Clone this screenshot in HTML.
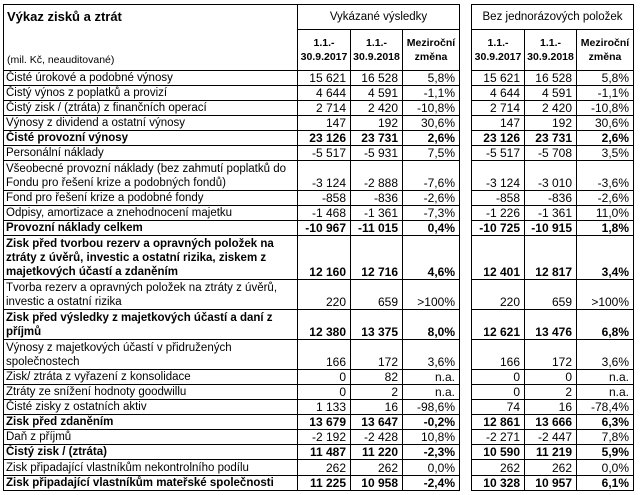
<!DOCTYPE html>
<html><head><meta charset="utf-8"><style>
body{margin:0;background:#fff;overflow:hidden;}
table{position:absolute;left:3px;top:4px;width:630px;border-collapse:collapse;font-family:"Liberation Sans",Arial,sans-serif;font-size:11.5px;color:#000;table-layout:fixed;}
td{border:1px solid #000;padding:0 2px;vertical-align:bottom;line-height:14px;white-space:nowrap;overflow:hidden;}
td.n{text-align:right;padding-right:4px;padding-left:0;font-size:12px;}
td.s{border:none;border-left:1px solid #000;border-right:1px solid #000;}
tr.b td{font-weight:bold;}
tr.h1 td{height:24px;vertical-align:middle;text-align:center;font-size:11.5px;}
tr.h2 td{height:40px;vertical-align:middle;text-align:center;font-weight:bold;font-size:10.5px;line-height:14px;padding:0;}
tr.r1 td{height:14px;}
tr.r2 td{height:29px;}
tr.r3 td{height:43px;}
</style></head><body>
<table>
<colgroup><col style="width:294px"><col style="width:53px"><col style="width:52px"><col style="width:57px"><col style="width:12px"><col style="width:53px"><col style="width:52px"><col style="width:57px"></colgroup>
<tr class="h1"><td rowspan="2" style="vertical-align:top;text-align:left;padding:0 3px;"><div style="font-weight:bold;font-size:13px;line-height:16px;margin-top:4px;">Výkaz zisků a ztrát</div><div style="font-size:10.5px;margin-top:28px;line-height:14px;">(mil. Kč, neauditované)</div></td><td colspan="3">Vykázané výsledky</td><td class="s"></td><td colspan="3">Bez jednorázových položek</td></tr>
<tr class="h2"><td>1.1.-<br>30.9.2017</td><td>1.1.-<br>30.9.2018</td><td>Meziroční<br>změna</td><td class="s"></td><td>1.1.-<br>30.9.2017</td><td>1.1.-<br>30.9.2018</td><td>Meziroční<br>změna</td></tr>
<tr class="r1"><td>Čisté úrokové a podobné výnosy</td><td class="n">15 621</td><td class="n">16 528</td><td class="n">5,8%</td><td class="s"></td><td class="n">15 621</td><td class="n">16 528</td><td class="n">5,8%</td></tr>
<tr class="r1"><td>Čistý výnos z poplatků a provizí</td><td class="n">4 644</td><td class="n">4 591</td><td class="n">-1,1%</td><td class="s"></td><td class="n">4 644</td><td class="n">4 591</td><td class="n">-1,1%</td></tr>
<tr class="r1"><td>Čistý zisk / (ztráta) z finančních operací</td><td class="n">2 714</td><td class="n">2 420</td><td class="n">-10,8%</td><td class="s"></td><td class="n">2 714</td><td class="n">2 420</td><td class="n">-10,8%</td></tr>
<tr class="r1"><td>Výnosy z dividend a ostatní výnosy</td><td class="n">147</td><td class="n">192</td><td class="n">30,6%</td><td class="s"></td><td class="n">147</td><td class="n">192</td><td class="n">30,6%</td></tr>
<tr class="r1 b"><td>Čisté provozní výnosy</td><td class="n">23 126</td><td class="n">23 731</td><td class="n">2,6%</td><td class="s"></td><td class="n">23 126</td><td class="n">23 731</td><td class="n">2,6%</td></tr>
<tr class="r1"><td>Personální náklady</td><td class="n">-5 517</td><td class="n">-5 931</td><td class="n">7,5%</td><td class="s"></td><td class="n">-5 517</td><td class="n">-5 708</td><td class="n">3,5%</td></tr>
<tr class="r2"><td>Všeobecné provozní náklady (bez zahmutí poplatků do<br>Fondu pro řešení krize a podobných fondů)</td><td class="n">-3 124</td><td class="n">-2 888</td><td class="n">-7,6%</td><td class="s"></td><td class="n">-3 124</td><td class="n">-3 010</td><td class="n">-3,6%</td></tr>
<tr class="r1"><td>Fond pro řešení krize a podobné fondy</td><td class="n">-858</td><td class="n">-836</td><td class="n">-2,6%</td><td class="s"></td><td class="n">-858</td><td class="n">-836</td><td class="n">-2,6%</td></tr>
<tr class="r1"><td>Odpisy, amortizace a znehodnocení majetku</td><td class="n">-1 468</td><td class="n">-1 361</td><td class="n">-7,3%</td><td class="s"></td><td class="n">-1 226</td><td class="n">-1 361</td><td class="n">11,0%</td></tr>
<tr class="r1 b"><td>Provozní náklady celkem</td><td class="n">-10 967</td><td class="n">-11 015</td><td class="n">0,4%</td><td class="s"></td><td class="n">-10 725</td><td class="n">-10 915</td><td class="n">1,8%</td></tr>
<tr class="r3 b"><td>Zisk před tvorbou rezerv a opravných položek na<br>ztráty z úvěrů, investic a ostatní rizika, ziskem z<br>majetkových účastí a zdaněním</td><td class="n">12 160</td><td class="n">12 716</td><td class="n">4,6%</td><td class="s"></td><td class="n">12 401</td><td class="n">12 817</td><td class="n">3,4%</td></tr>
<tr class="r2"><td>Tvorba rezerv a opravných položek na ztráty z úvěrů,<br>investic a ostatní rizika</td><td class="n">220</td><td class="n">659</td><td class="n">&gt;100%</td><td class="s"></td><td class="n">220</td><td class="n">659</td><td class="n">&gt;100%</td></tr>
<tr class="r2 b"><td>Zisk před výsledky z majetkových účastí a daní z<br>příjmů</td><td class="n">12 380</td><td class="n">13 375</td><td class="n">8,0%</td><td class="s"></td><td class="n">12 621</td><td class="n">13 476</td><td class="n">6,8%</td></tr>
<tr class="r2"><td>Výnosy z majetkových účastí v přidružených<br>společnostech</td><td class="n">166</td><td class="n">172</td><td class="n">3,6%</td><td class="s"></td><td class="n">166</td><td class="n">172</td><td class="n">3,6%</td></tr>
<tr class="r1"><td>Zisk/ ztráta z vyřazení z konsolidace</td><td class="n">0</td><td class="n">82</td><td class="n">n.a.</td><td class="s"></td><td class="n">0</td><td class="n">0</td><td class="n">n.a.</td></tr>
<tr class="r1"><td>Ztráty ze snížení hodnoty goodwillu</td><td class="n">0</td><td class="n">2</td><td class="n">n.a.</td><td class="s"></td><td class="n">0</td><td class="n">2</td><td class="n">n.a.</td></tr>
<tr class="r1"><td>Čisté zisky z ostatních aktiv</td><td class="n">1 133</td><td class="n">16</td><td class="n">-98,6%</td><td class="s"></td><td class="n">74</td><td class="n">16</td><td class="n">-78,4%</td></tr>
<tr class="r1 b"><td>Zisk před zdaněním</td><td class="n">13 679</td><td class="n">13 647</td><td class="n">-0,2%</td><td class="s"></td><td class="n">12 861</td><td class="n">13 666</td><td class="n">6,3%</td></tr>
<tr class="r1"><td>Daň z příjmů</td><td class="n">-2 192</td><td class="n">-2 428</td><td class="n">10,8%</td><td class="s"></td><td class="n">-2 271</td><td class="n">-2 447</td><td class="n">7,8%</td></tr>
<tr class="r1 b"><td>Čistý zisk / (ztráta)</td><td class="n">11 487</td><td class="n">11 220</td><td class="n">-2,3%</td><td class="s"></td><td class="n">10 590</td><td class="n">11 219</td><td class="n">5,9%</td></tr>
<tr class="r1" style="height:16px"><td>Zisk připadající vlastníkům nekontrolního podílu</td><td class="n">262</td><td class="n">262</td><td class="n">0,0%</td><td class="s"></td><td class="n">262</td><td class="n">262</td><td class="n">0,0%</td></tr>
<tr class="r1 b"><td>Zisk připadající vlastníkům mateřské společnosti</td><td class="n">11 225</td><td class="n">10 958</td><td class="n">-2,4%</td><td class="s"></td><td class="n">10 328</td><td class="n">10 957</td><td class="n">6,1%</td></tr>
</table>
</body></html>
